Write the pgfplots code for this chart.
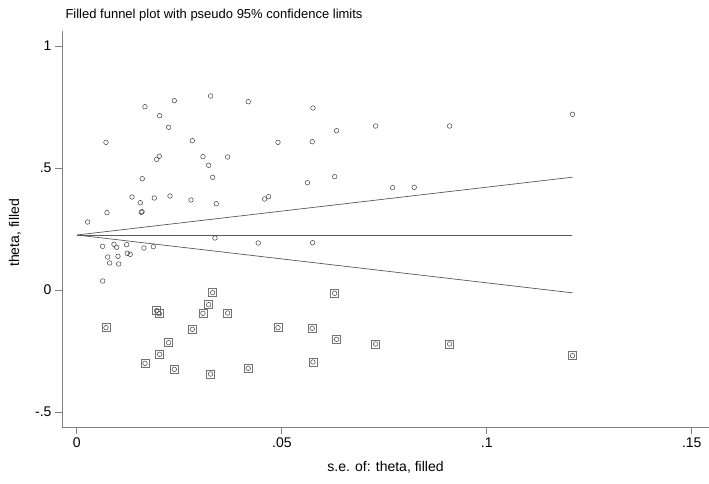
\documentclass[border=0pt]{standalone}
\usepackage{pgfplots}
\pgfplotsset{compat=1.18}
\usepackage{fontspec}
\setmainfont{Liberation Sans}
\begin{document}
\begin{tikzpicture}
\begin{axis}[
  width=647pt, height=396pt, scale only axis,
  xmin=-0.00363, xmax=0.1542, ymin=-0.5615, ymax=1.0615,
  axis x line*=bottom, axis y line*=left,
  axis line style={draw=black!50, line width=0.8pt, -},
  xtick={0,0.05,0.1,0.15}, xticklabels={0,.05,.1,.15},
  ytick={-0.5,0,0.5,1}, yticklabels={-.5,0,.5,1},
  tick align=outside, major tick length=7pt,
  tick style={black!50, line width=0.8pt},
  ticklabel style={font=\fontsize{14}{16}\selectfont},
  /pgf/number format/assume math mode=true,
  title={Filled funnel plot with pseudo 95\% confidence limits},
  title style={at={(rel axis cs:0,1)}, anchor=base west, yshift=6pt, font=\fontsize{13}{15}\selectfont},
  xlabel={s.e. of: theta, filled},
  xlabel style={at={(axis description cs:0.5,0)}, anchor=center, yshift=-40pt, font=\fontsize{14}{16}\selectfont},
  ylabel={theta, filled},
  ylabel style={at={(axis description cs:-0.0726,0.49)}, anchor=center, font=\fontsize{14}{16}\selectfont},
  clip=false,
]
% funnel lines
\addplot[black!65, line width=0.7pt] coordinates {(0,0.2254) (0.1209,0.2254)};
\addplot[black!65, line width=0.7pt] coordinates {(0,0.2254) (0.1209,0.4624)};
\addplot[black!65, line width=0.7pt] coordinates {(0,0.2254) (0.1209,-0.0116)};
% filled studies (squares)
\addplot[only marks, mark=square, mark size=4pt, draw=black!55, mark options={line width=0.7pt}] table {
x y
0.00710 -0.1545
0.01661 -0.3004
0.02376 -0.3250
0.03263 -0.3443
0.04180 -0.3209
0.02020 -0.2635
0.02239 -0.2160
0.02815 -0.1611
0.04905 -0.1545
0.02010 -0.0972
0.01946 -0.0849
0.03076 -0.0955
0.03678 -0.0943
0.03215 -0.0603
0.03312 -0.0111
0.05759 -0.2951
0.06337 -0.2021
0.07288 -0.2213
0.09093 -0.2213
0.05741 -0.1570
0.06288 -0.0135
0.12090 -0.2693
};
\addplot[only marks, mark=o, mark size=2.3pt, draw=black!75, mark options={line width=0.5pt}] table {
x y
0.00710 -0.1545
0.01661 -0.3004
0.02376 -0.3250
0.03263 -0.3443
0.04180 -0.3209
0.02020 -0.2635
0.02239 -0.2160
0.02815 -0.1611
0.04905 -0.1545
0.02010 -0.0972
0.01946 -0.0849
0.03076 -0.0955
0.03678 -0.0943
0.03215 -0.0603
0.03312 -0.0111
0.05759 -0.2951
0.06337 -0.2021
0.07288 -0.2213
0.09093 -0.2213
0.05741 -0.1570
0.06288 -0.0135
0.12090 -0.2693
};
% observed studies (circles)
\addplot[only marks, mark=o, mark size=2.3pt, draw=black!75, mark options={line width=0.5pt}] table {
x y
0.00263 0.2787
0.00710 0.6053
0.00734 0.3168
0.01661 0.7512
0.02376 0.7758
0.03263 0.7951
0.04180 0.7717
0.02020 0.7143
0.02239 0.6668
0.02815 0.6119
0.04905 0.6053
0.02010 0.5480
0.01946 0.5357
0.03076 0.5463
0.03678 0.5451
0.03215 0.5111
0.01595 0.4561
0.03312 0.4619
0.05624 0.4398
0.01344 0.3811
0.01888 0.3770
0.02271 0.3852
0.02783 0.3689
0.01546 0.3578
0.04580 0.3730
0.04678 0.3824
0.03400 0.3537
0.01570 0.3184
0.01590 0.3209
0.03368 0.2131
0.04424 0.1926
0.00629 0.1791
0.00905 0.1873
0.00971 0.1750
0.01215 0.1857
0.01637 0.1721
0.01863 0.1775
0.00751 0.1352
0.01002 0.1381
0.01229 0.1504
0.01302 0.1463
0.00800 0.1107
0.01020 0.1066
0.00629 0.0369
0.05759 0.7459
0.06337 0.6529
0.07288 0.6721
0.09093 0.6721
0.05741 0.6078
0.06288 0.4643
0.07702 0.4193
0.08229 0.4209
0.05751 0.1939
0.12090 0.7201
};
\end{axis}
\pgfresetboundingbox
\path[use as bounding box] (current axis.south west) ++(-62pt,-56pt) rectangle ++(709pt,483pt);
\end{tikzpicture}
\end{document}
